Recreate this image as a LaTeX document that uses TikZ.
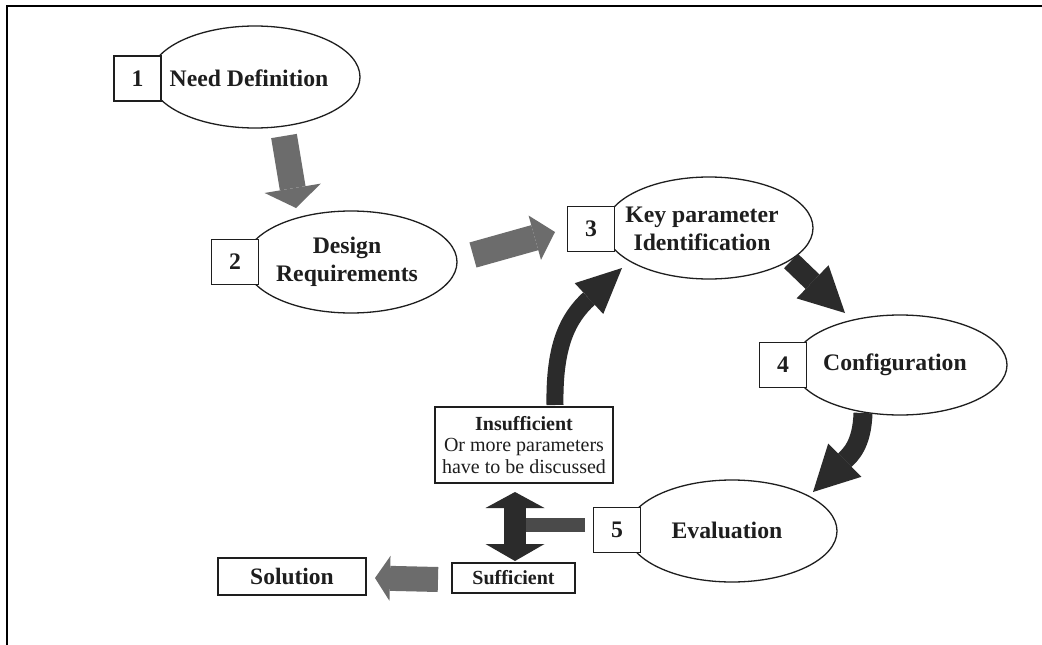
\documentclass[tikz,border=0pt]{standalone}
\usepackage{fontspec}
\setmainfont{Liberation Serif}
\usetikzlibrary{shapes.geometric,arrows.meta}

\definecolor{inkc}{HTML}{1E1E1E}
\definecolor{lightarrow}{HTML}{6C6C6C}
\definecolor{darkarrow}{HTML}{2B2B2B}
\definecolor{barc}{HTML}{4A4A4A}

\tikzset{
  stage/.style={ellipse, draw=inkc, line width=1.3pt, fill=white, inner sep=0pt},
  numbox/.style={rectangle, draw=inkc, line width=1.3pt, fill=white,
    minimum width=47pt, minimum height=45pt, inner sep=0pt,
    font=\fontsize{23.7}{28}\selectfont\bfseries, text=inkc},
  stagetext/.style={align=center, inner sep=0pt,
    font=\fontsize{23.7}{28}\selectfont\bfseries, text=inkc},
  outbox/.style={rectangle, draw=inkc, line width=1.3pt, fill=white, inner sep=0pt, text=inkc},
  graybig/.style={draw=lightarrow, line cap=butt},
  darkbig/.style={draw=darkarrow, line cap=butt},
}

\begin{document}
\begin{tikzpicture}[x=1pt, y=-1pt]
  \useasboundingbox (0,0) rectangle (1042,645);
  \fill[white] (0,0) rectangle (1042,645);

  % frame (top and left edges)
  \draw[black, line width=2.4pt] (7,645) -- (7,6) -- (1042,6);

  % stage ellipses
  \node[stage, minimum width=210pt, minimum height=102pt] (e1) at (255,77) {};
  \node[stage, minimum width=212pt, minimum height=102pt] (e2) at (351,262) {};
  \node[stage, minimum width=208pt, minimum height=102pt] (e3) at (709,228) {};
  \node[stage, minimum width=214pt, minimum height=100pt] (e4) at (900,365) {};
  \node[stage, minimum width=210pt, minimum height=102pt] (e5) at (732,531) {};

  % stage titles
  \node[stagetext] (t1) at (249,78) {Need Definition};
  \node[stagetext] (t2) at (347,262) {Design\\Requirements};
  \node[stagetext] (t3) at (702,229) {Key parameter\\Identification};
  \node[stagetext] (t4) at (895,365) {Configuration};
  \node[stagetext] (t5) at (727,530) {Evaluation};

  % step numbers
  \node[numbox] (n1) at (137.5,78.5) {1};
  \node[numbox] (n2) at (235,262) {2};
  \node[numbox] (n3) at (591,229) {3};
  \node[numbox] (n4) at (783,365) {4};
  \node[numbox] (n5) at (617,530) {5};

  % outcome boxes
  \node[outbox, minimum width=178pt, minimum height=76pt, align=center,
        font=\fontsize{20}{21.5}\selectfont] (ins) at (524,445)
        {\textbf{Insufficient}\\Or more parameters\\have to be discussed};
  \node[outbox, minimum width=123pt, minimum height=30pt,
        font=\fontsize{20}{22}\selectfont\bfseries] (suf) at (513.5,578) {Sufficient};
  \node[outbox, minimum width=148pt, minimum height=37pt,
        font=\fontsize{23.5}{26}\selectfont\bfseries] (sol) at (292,576.5) {Solution};

  % arrow end points
  \coordinate (a12s) at (284,136);
  \coordinate (a12e) at (296,208);
  \coordinate (a23s) at (473,255);
  \coordinate (a23e) at (555,232);
  \coordinate (a34s) at (791,261);
  \coordinate (a34e) at (845,313);
  \coordinate (a45s) at (863,413);
  \coordinate (a45e) at (813,492);
  \coordinate (a53s) at (555,405);
  \coordinate (a53e) at (622,268);
  \coordinate (dtop) at (515,492);
  \coordinate (dbot) at (515,561);
  \coordinate (barr) at (585,525);
  \coordinate (barl) at (526,525);
  \coordinate (sols) at (438,579.5);
  \coordinate (sole) at (375,578);

  % block arrows between the stages
  \draw[graybig, line width=26pt,
        -{Triangle[width=57pt, length=20pt, line width=0pt]}] (a12s) -- (a12e);
  \draw[graybig, line width=26pt,
        -{Triangle[width=46pt, length=21pt, line width=0pt]}] (a23s) -- (a23e);
  \draw[darkbig, line width=20pt,
        -{Triangle[width=46pt, length=45pt, line width=0pt]}] (a34s) -- (a34e);
  \draw[darkbig, line width=19pt,
        -{Triangle[width=47pt, length=45pt, line width=0pt]}]
        (a45s) .. controls (862,445) and (850,455) .. (a45e);
  \draw[darkbig, line width=17pt,
        -{Triangle[width=42pt, length=45pt, line width=0pt]}]
        (a53s) .. controls (554,345) and (568,318) .. (a53e);

  % evaluation outcome: bar into the two-way arrow
  \draw[draw=barc, line width=14pt, line cap=butt] (barr) -- (barl);
  \draw[darkbig, line width=22pt,
        {Triangle[width=59pt, length=16pt, line width=0pt]}-{Triangle[width=59pt, length=17pt, line width=0pt]}]
        (dtop) -- (dbot);

  % sufficient leads to the solution
  \draw[graybig, line width=25pt,
        -{Triangle[width=45pt, length=15pt, line width=0pt]}] (sols) -- (sole);
\end{tikzpicture}
\end{document}
